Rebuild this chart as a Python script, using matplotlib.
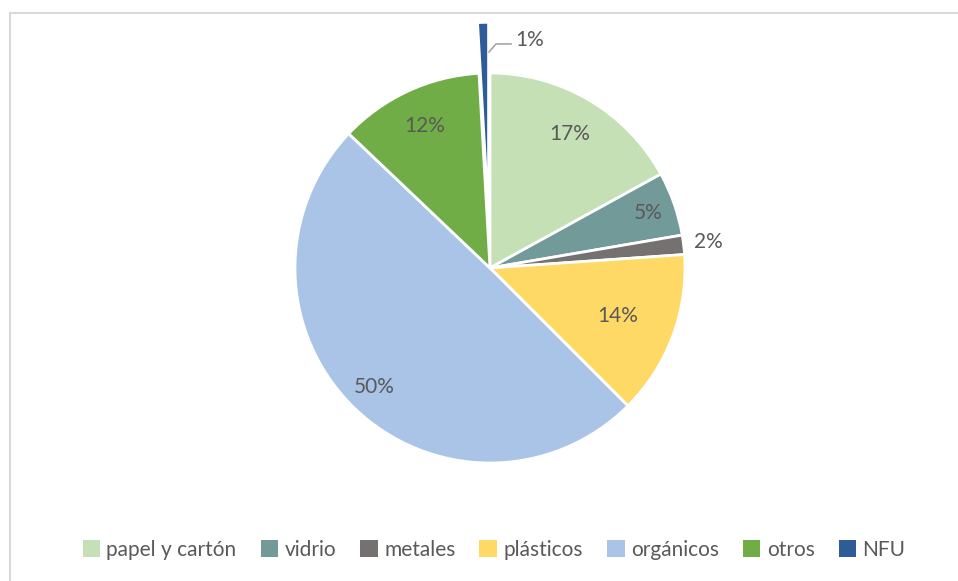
import matplotlib
matplotlib.use("Agg")
import matplotlib.pyplot as plt
from matplotlib.patches import Patch
from matplotlib.lines import Line2D
import numpy as np

plt.rcParams['font.family'] = ['Lato', 'DejaVu Sans']

categorias = ['papel y cartón', 'vidrio', 'metales', 'plásticos', 'orgánicos', 'otros', 'NFU']
porcentajes = [17.0, 5.3, 1.6, 13.6, 49.6, 12.0, 0.9]
colores = ['#C5E0B4', '#729A99', '#767171', '#FFD966', '#A9C4E6', '#70AD47', '#2E5C99']
separacion = [0, 0, 0, 0, 0, 0, 0.26]

texto_color = '#595959'

fig = plt.figure(figsize=(9.58, 5.81), dpi=100)
W, H = 958, 581
cx, cy, R = 490, 268, 195
lim = 1.3
lado = 2 * lim * R
ax = fig.add_axes([(cx - lado / 2) / W, (H - cy - lado / 2) / H, lado / W, lado / H])

wedges, textos, autotextos = ax.pie(
    porcentajes, colors=colores, startangle=90, counterclock=False,
    explode=separacion, autopct='%.0f%%', pctdistance=0.8,
    labels=None, wedgeprops=dict(edgecolor='white', linewidth=2),
    textprops=dict(color=texto_color, fontsize=15))
ax.set_xlim(-lim, lim)
ax.set_ylim(-lim, lim)
ax.set_aspect('equal')
ax.axis('off')

# ajustar la distancia radial de algunas etiquetas
radios = [0.80, 0.86, 1.13, 0.70, 0.85, 0.80, None]
for w, t, r in zip(wedges, autotextos, radios):
    if r is None:
        continue
    ang = np.deg2rad((w.theta1 + w.theta2) / 2)
    t.set_position((r * np.cos(ang), r * np.sin(ang)))

# etiqueta de NFU con línea guía
ax.plot([-0.005, 0.031, 0.108], [1.108, 1.149, 1.149], color='#A6A6A6', lw=1.2, clip_on=False)
autotextos[-1].set_position((0.128, 1.169))
autotextos[-1].set_ha('left')

handles = [Patch(facecolor=c, edgecolor='none') for c in colores]
fig.legend(handles, categorias, loc='center', bbox_to_anchor=(494 / W, (H - 550) / H),
           ncol=len(categorias), frameon=False, fontsize=15, labelcolor=texto_color,
           handlelength=0.85, handleheight=0.85, handletextpad=0.3, columnspacing=1.15)

# borde del área del gráfico
fig.add_artist(Line2D([9.5 / W, 1.0], [(H - 12.5) / H] * 2, color='#D9D9D9', lw=1.5))
fig.add_artist(Line2D([9.5 / W] * 2, [0, (H - 12.5) / H], color='#D9D9D9', lw=1.5))

fig.savefig('out.png', dpi=100)
